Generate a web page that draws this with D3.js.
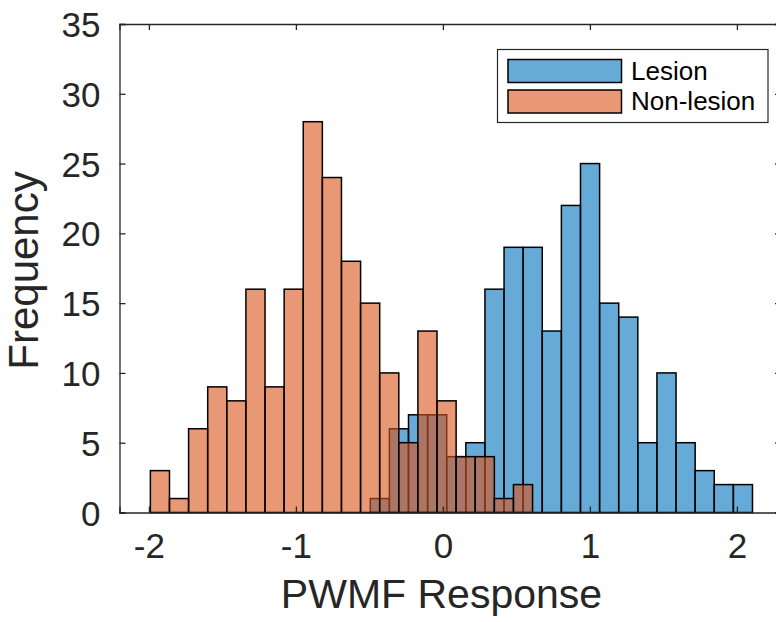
<!DOCTYPE html>
<html>
<head>
<meta charset="utf-8">
<script src="https://cdn.jsdelivr.net/npm/d3@7"></script>
<style>
  html, body { margin: 0; padding: 0; background: #fff; }
  svg { display: block; font-family: "Liberation Sans", Arial, Helvetica, sans-serif; }
</style>
</head>
<body>
<svg id="chart" width="776" height="622"></svg>
<script>
// ---- data ----
const binWidth = 0.13;
const lesionBinStart = -0.494;
const lesionCounts = [1, 6, 7, 7, 4, 5, 16, 19, 19, 13, 22, 25, 15, 14, 5, 10, 5, 3, 2, 2];
const nonLesionBinStart = -1.99;
const nonLesionCounts = [3, 1, 6, 9, 8, 16, 9, 16, 28, 24, 18, 15, 10, 5, 13, 8, 4, 4, 1, 2];
const seriesNames = ["Lesion", "Non-lesion"];
const xTicks = [-2, -1, 0, 1, 2];
const yTicks = [0, 5, 10, 15, 20, 25, 30, 35];
const xLabel = "PWMF Response";
const yLabel = "Frequency";

// ---- styles ----
const baseColors = ["rgb(0,114,189)", "rgb(217,83,25)"];
const faceAlpha = 0.6;
const axisColor = "#262626";

function toBins(start, counts) {
  return counts.map((c, i) => ({ x0: start + i * binWidth, x1: start + (i + 1) * binWidth, count: c }));
}
const series = [
  { name: seriesNames[0], bins: toBins(lesionBinStart, lesionCounts), color: baseColors[0] },
  { name: seriesNames[1], bins: toBins(nonLesionBinStart, nonLesionCounts), color: baseColors[1] }
];

const svg = d3.select("#chart");
const mLeft = 119.5, mRight = 781, mTop = 24, mBottom = 512.5;

const x = d3.scaleLinear().domain([-2.2, 2.3]).range([mLeft, mRight]);
const y = d3.scaleLinear().domain([0, 35]).range([mBottom, mTop]);

// bars
series.forEach(s => {
  svg.append("g")
    .selectAll("rect")
    .data(s.bins)
    .join("rect")
    .attr("x", d => x(d.x0))
    .attr("y", d => y(d.count))
    .attr("width", d => x(d.x1) - x(d.x0))
    .attr("height", d => y(0) - y(d.count))
    .attr("fill", s.color)
    .attr("fill-opacity", faceAlpha)
    .attr("stroke", "#000")
    .attr("stroke-width", 1.5);
});

// axes
const tickLen = 6;
const fmt = d => String(d);
const gx = svg.append("g").attr("transform", `translate(0,${mBottom})`)
  .call(d3.axisBottom(x).tickValues(xTicks).tickSize(-tickLen).tickPadding(21).tickFormat(fmt));
const gxTop = svg.append("g").attr("transform", `translate(0,${mTop})`)
  .call(d3.axisTop(x).tickValues(xTicks).tickSize(-tickLen).tickFormat(""));
const gy = svg.append("g").attr("transform", `translate(${mLeft},0)`)
  .call(d3.axisLeft(y).tickValues(yTicks).tickSize(-tickLen).tickPadding(19).tickFormat(fmt));
const gyRight = svg.append("g").attr("transform", `translate(${mRight},0)`)
  .call(d3.axisRight(y).tickValues(yTicks).tickSize(-tickLen).tickFormat(""));

[gx, gxTop, gy, gyRight].forEach(g => {
  g.select(".domain").attr("stroke", axisColor).attr("stroke-width", 1.3);
  g.selectAll(".tick line").attr("stroke", axisColor).attr("stroke-width", 1.3);
  g.selectAll(".tick text").attr("fill", axisColor).style("font-size", "35px")
    .style("font-family", '"Liberation Sans", Arial, Helvetica, sans-serif');
});
gx.selectAll(".tick text").attr("dy", "0.71em");
gy.selectAll(".tick text").attr("dy", "0.36em");

// axis labels
svg.append("text")
  .attr("x", 441.5)
  .attr("y", 608)
  .attr("text-anchor", "middle")
  .attr("fill", axisColor)
  .style("font-size", "41px")
  .text(xLabel);

svg.append("text")
  .attr("transform", `translate(38,${270.5}) rotate(-90)`)
  .attr("text-anchor", "middle")
  .attr("fill", axisColor)
  .style("font-size", "42px")
  .text(yLabel);

// legend
const lg = svg.append("g");
lg.append("rect")
  .attr("x", 497.5).attr("y", 49.5).attr("width", 270.5).attr("height", 73)
  .attr("fill", "#fff").attr("stroke", axisColor).attr("stroke-width", 1.2);
series.forEach((s, i) => {
  const yy = 59.5 + i * 30.5;
  lg.append("rect")
    .attr("x", 508).attr("y", yy).attr("width", 113.5).attr("height", 23)
    .attr("fill", s.color).attr("fill-opacity", faceAlpha)
    .attr("stroke", "#000").attr("stroke-width", 1.5);
  lg.append("text")
    .attr("x", 631).attr("y", yy + 20)
    .attr("fill", "#000")
    .style("font-size", "26px")
    .text(s.name);
});
</script>
</body>
</html>
